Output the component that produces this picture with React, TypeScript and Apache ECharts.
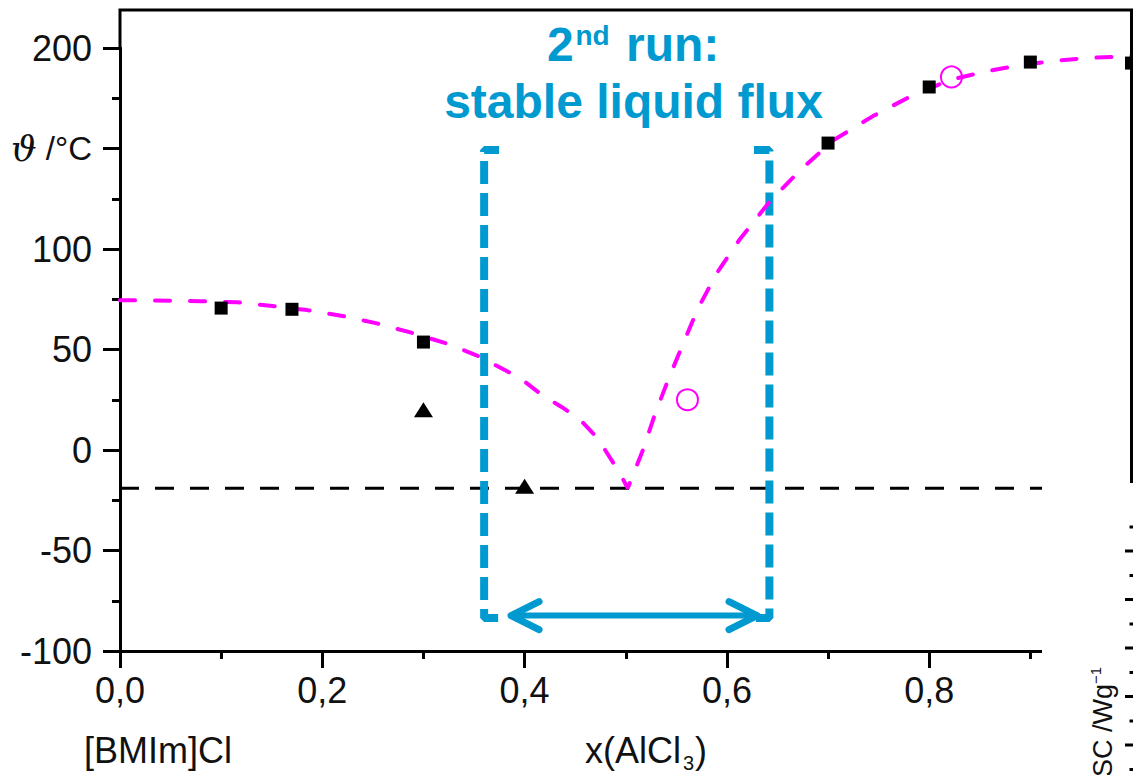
import React, { useEffect, useRef } from 'react';
import * as echarts from 'echarts';

// ---- data (x = mole fraction AlCl3, y = temperature °C) ----
const xTickValues = [0, 0.2, 0.4, 0.6, 0.8, 1.0];
const yTickValues = [-100, -50, 0, 50, 100, 150, 200];

const liquidusLeft: number[][] = [
  [0, 74.5], [0.05, 74.3], [0.08, 74], [0.116, 73.5], [0.151, 71.6], [0.185, 69.6],
  [0.22, 66.7], [0.254, 63], [0.287, 58.5], [0.323, 53], [0.353, 47], [0.386, 38.3],
  [0.402, 33.3], [0.418, 27], [0.437, 21.3], [0.455, 15], [0.472, 6], [0.484, -3.5],
  [0.494, -11.4], [0.502, -19],
];
const liquidusRight: number[][] = [
  [0.517, 0], [0.529, 18], [0.542, 35], [0.556, 52], [0.571, 70], [0.59, 88],
  [0.613, 105], [0.643, 124], [0.672, 139], [0.705, 154], [0.744, 166], [0.778, 175],
  [0.801, 180], [0.82, 184], [0.853, 188], [0.89, 191.5], [0.922, 193.5], [0.956, 195], [1.0, 196],
];
const squarePoints: number[][] = [
  [0.1, 70.6], [0.17, 70], [0.3, 53.7], [0.7, 152.7], [0.8, 180.6], [0.9, 193], [1.0, 192.5],
];
const trianglePoints: number[][] = [[0.3, 20], [0.4, -18]];
const circlePoints: number[][] = [[0.561, 25], [0.822, 185.6]];
const eutecticLine: number[][] = [[0, -19], [1, -19]];

const bracketLeft: number[][] = [[0.3747, 149.3], [0.36, 149.3], [0.36, -83.6], [0.3747, -83.6]];
const bracketRight: number[][] = [[0.6268, 149.3], [0.642, 149.3], [0.642, -83.6], [0.6268, -83.6]];
const arrowShaft: number[][] = [[0.3866, -82.4], [0.6298, -82.4]];
const arrowHeadLeft: number[][] = [[0.4143, -75.4], [0.3866, -82.4], [0.4143, -89.4]];
const arrowHeadRight: number[][] = [[0.6021, -75.4], [0.6298, -82.4], [0.6021, -89.4]];

const titleParts = ['2', 'nd', 'run:'];
const titleLine2 = 'stable liquid flux';
const xNameLeft = '[BMIm]Cl';
const xNameParts = ['x(AlCl', '3', ')'];
const yNameLabel = ' /°C';
const dscLabel = 'DSC /Wg';

const BLUE = '#009ad0';
const MAGENTA = '#ff00ff';
const FONT = '"Liberation Sans", Arial, Helvetica, sans-serif';

function buildOption() {
  const dscTicks: any[] = [];
  for (let i = 0; i < 6; i++) {
    const yMaj = 551 + i * 48.5;
    const yMin = 527 + i * 48.5;
    if (yMaj < 775)
      dscTicks.push({ type: 'line', z: 101, silent: true, shape: { x1: 1125, y1: yMaj, x2: 1133, y2: yMaj }, style: { stroke: '#000', lineWidth: 3 } });
    dscTicks.push({ type: 'line', z: 101, silent: true, shape: { x1: 1129.5, y1: yMin, x2: 1133, y2: yMin }, style: { stroke: '#000', lineWidth: 3 } });
  }

  return {
    animation: false,
    backgroundColor: '#fff',
    grid: { left: 120, right: 1.5, top: 48, bottom: 124, containLabel: false, outerBoundsMode: 'none' },
    xAxis: {
      type: 'value', min: 0, max: 1, interval: 0.2,
      axisLine: { show: true, onZero: false, lineStyle: { color: '#000', width: 3 } },
      axisTick: { show: true, inside: false, length: 17, lineStyle: { color: '#000', width: 3 } },
      minorTick: { show: true, splitNumber: 2, length: 8, lineStyle: { color: '#000', width: 3 } },
      splitLine: { show: false },
      minorSplitLine: { show: false },
      axisLabel: {
        show: true, margin: 21, fontSize: 36, fontFamily: FONT, color: '#111',
        formatter: (v: number) => (xTickValues.indexOf(v) >= 0 && v < 1 ? v.toFixed(1).replace('.', ',') : ''),
      },
    },
    yAxis: {
      type: 'value', min: -100, max: 200, interval: 50,
      axisLine: { show: true, onZero: false, lineStyle: { color: '#000', width: 3 } },
      axisTick: { show: true, inside: false, length: 17, lineStyle: { color: '#000', width: 3 } },
      minorTick: { show: true, splitNumber: 2, length: 8, lineStyle: { color: '#000', width: 3 } },
      splitLine: { show: false },
      minorSplitLine: { show: false },
      axisLabel: {
        show: true, margin: 28, fontSize: 36, fontFamily: FONT, color: '#111',
        formatter: (v: number) => {
          if (yTickValues.indexOf(v) < 0) return '';
          if (v === 150) return '{th|ϑ}{n|' + yNameLabel + '}';
          return String(v);
        },
        rich: {
          th: { fontFamily: '"DejaVu Serif", serif', fontStyle: 'italic', fontSize: 36, color: '#111' },
          n: { fontFamily: FONT, fontSize: 33, color: '#111' },
        },
      },
    },
    series: [
      {
        type: 'line', data: eutecticLine, symbol: 'none', silent: true, z: 2,
        lineStyle: { color: '#000', width: 3, type: [19, 16] },
      },
      {
        type: 'line', data: bracketLeft, symbol: 'none', silent: true, z: 3,
        lineStyle: { color: BLUE, width: 8, type: [23, 9], dashOffset: 6 },
      },
      {
        type: 'line', data: bracketRight, symbol: 'none', silent: true, z: 3,
        lineStyle: { color: BLUE, width: 8, type: [23, 9], dashOffset: 6 },
      },
      {
        type: 'line', data: arrowShaft, symbol: 'none', silent: true, z: 3,
        lineStyle: { color: BLUE, width: 6, cap: 'round', join: 'round' },
      },
      {
        type: 'line', data: arrowHeadLeft, symbol: 'none', silent: true, z: 3,
        lineStyle: { color: BLUE, width: 7, cap: 'round', join: 'round' },
      },
      {
        type: 'line', data: arrowHeadRight, symbol: 'none', silent: true, z: 3,
        lineStyle: { color: BLUE, width: 7, cap: 'round', join: 'round' },
      },
      {
        type: 'line', data: liquidusLeft.concat(liquidusRight), symbol: 'none', silent: true, z: 4,
        lineStyle: { color: MAGENTA, width: 4, type: [15, 20], cap: 'round', opacity: 1 },
      },
      {
        type: 'scatter', data: trianglePoints, symbol: 'triangle', symbolSize: [19, 15], silent: true, z: 5,
        itemStyle: { color: '#000', opacity: 1 },
      },
      {
        type: 'scatter', data: squarePoints, symbol: 'rect', symbolSize: 13, silent: true, z: 5,
        itemStyle: { color: '#000', opacity: 1 },
      },
      {
        type: 'scatter', data: circlePoints, symbol: 'circle', symbolSize: 21, silent: true, z: 5,
        itemStyle: { color: 'rgba(0,0,0,0)', borderColor: MAGENTA, borderWidth: 2, opacity: 1 },
      },
    ],
    graphic: [
      {
        type: 'polyline', silent: true, z: 10,
        shape: { points: [[120, 49], [120, 10], [1131.5, 10], [1131.5, 483]] },
        style: { stroke: '#000', lineWidth: 3, fill: 'none' },
      },
      { type: 'text', silent: true, z: 10, x: 547, y: 44, style: { text: titleParts[0], fill: BLUE, font: 'bold 48px ' + FONT, textAlign: 'left', textVerticalAlign: 'middle' } },
      { type: 'text', silent: true, z: 10, x: 575.5, y: 35, style: { text: titleParts[1], fill: BLUE, font: 'bold 28px ' + FONT, textAlign: 'left', textVerticalAlign: 'middle' } },
      { type: 'text', silent: true, z: 10, x: 626, y: 44, style: { text: titleParts[2], fill: BLUE, font: 'bold 48px ' + FONT, textAlign: 'left', textVerticalAlign: 'middle' } },
      { type: 'text', silent: true, z: 10, x: 633.5, y: 101, style: { text: titleLine2, fill: BLUE, font: 'bold 48px ' + FONT, textAlign: 'center', textVerticalAlign: 'middle' } },
      { type: 'text', silent: true, z: 10, x: 84, y: 750, style: { text: xNameLeft, fill: '#111', font: '36px ' + FONT, textAlign: 'left', textVerticalAlign: 'middle' } },
      { type: 'text', silent: true, z: 10, x: 585, y: 750, style: { text: xNameParts[0], fill: '#111', font: '36px ' + FONT, textAlign: 'left', textVerticalAlign: 'middle' } },
      { type: 'text', silent: true, z: 10, x: 683, y: 763, style: { text: xNameParts[1], fill: '#111', font: '20px ' + FONT, textAlign: 'left', textVerticalAlign: 'middle' } },
      { type: 'text', silent: true, z: 10, x: 695, y: 750, style: { text: xNameParts[2], fill: '#111', font: '36px ' + FONT, textAlign: 'left', textVerticalAlign: 'middle' } },
      {
        type: 'rect', silent: true, z: 100,
        shape: { x: 1042, y: 483, width: 95, height: 300 },
        style: { fill: '#fff', stroke: 'none' },
      },
      ...dscTicks,
      {
        type: 'text', silent: true, z: 101, x: 1103, y: 667, rotation: Math.PI / 2,
        style: {
          text: '{n|' + dscLabel + '}{s|−1}', textAlign: 'right', textVerticalAlign: 'middle',
          rich: {
            n: { fontSize: 27, fontFamily: FONT, fill: '#111', lineHeight: 30 },
            s: { fontSize: 15, fontFamily: FONT, fill: '#111', lineHeight: 16, verticalAlign: 'top' },
          },
        },
      },
    ],
  };
}

export default function App() {
  const ref = useRef<HTMLDivElement>(null);
  useEffect(() => {
    if (!ref.current) return;
    const chart = echarts.init(ref.current, undefined, { renderer: 'svg' });
    chart.setOption(buildOption() as any);
    return () => chart.dispose();
  }, []);
  return (
    <div
      ref={ref}
      style={{ position: 'absolute', left: 0, top: 0, width: 1133, height: 775, background: '#fff' }}
    />
  );
}
